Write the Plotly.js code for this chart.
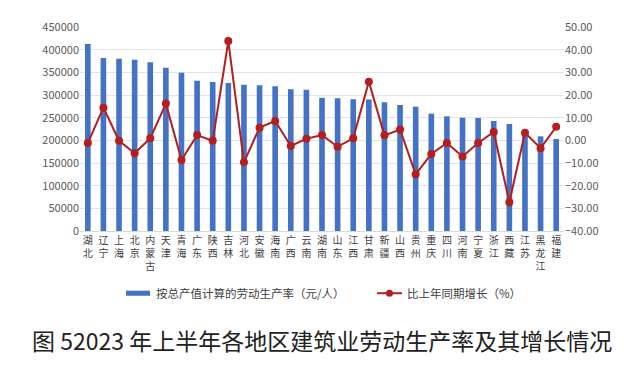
<!DOCTYPE html>
<html>
<head>
<meta charset="utf-8">
<script src="https://cdn.plot.ly/plotly-3.0.1.min.js"></script>
<style>html,body{margin:0;padding:0;background:#fff;}#chart{width:641px;height:366px;}</style>
</head>
<body>
<div id="chart"></div>
<script>
const regions = ["湖北","辽宁","上海","北京","内蒙古","天津","青海","广东","陕西","吉林","河北","安徽","海南","广西","云南","湖南","山东","江西","甘肃","新疆","山西","贵州","重庆","四川","河南","宁夏","浙江","西藏","江苏","黑龙江","福建"];
const productivity = [412500,381600,380000,377900,372100,360200,349200,331600,328700,326500,322800,321300,319200,312600,311800,294100,292700,290500,289800,283900,277900,274200,258800,253000,250000,249300,242600,236000,222000,208900,203000];
const growth = [-1.2,14.4,-0.2,-5.7,0.9,16.2,-8.7,2.3,-0.2,43.8,-9.7,5.6,8.5,-2.5,0.7,2.3,-2.8,0.9,25.9,2.2,4.8,-15.0,-6.0,-1.2,-7.1,-1.2,3.7,-27.3,3.4,-3.5,6.0];
const barName = "按总产值计算的劳动生产率（元/人）";
const lineName = "比上年同期增长（%）";
const titleText = "图 52023 年上半年各地区建筑业劳动生产率及其增长情况";

const tickText = regions.map(r => r.split("").join("<br>"));
const font = "Noto Sans CJK SC, Noto Sans, sans-serif";
const barColor = "#4472C4";
const lineColor = "#B41E1E";

const traces = [
  {type:"bar", x:regions, y:productivity, name:barName, marker:{color:barColor}, yaxis:"y"},
  {type:"scatter", mode:"lines+markers", x:regions, y:growth, name:lineName, yaxis:"y2",
   line:{color:lineColor, width:2}, marker:{color:lineColor, size:8}}
];

// legend drawn as paper-space decoration (wide swatch like the reference)
const legY = -0.305;
const layout = {
  width:641, height:366,
  margin:{l:80, r:77, t:27, b:135},
  paper_bgcolor:"#fff", plot_bgcolor:"#fff",
  font:{family:font, size:11, color:"#595959"},
  bargap:0.64,
  showlegend:false,
  xaxis:{type:"category", range:[-0.5, regions.length-0.5], tickmode:"array", tickvals:regions, ticktext:tickText,
         tickfont:{size:10, color:"#404040"}, showgrid:false, zeroline:false,
         showline:true, linecolor:"#D9D9D9", ticks:"", ticklen:4, automargin:false},
  yaxis:{range:[0,450000], dtick:50000, tickformat:"d", showgrid:true, gridcolor:"#E3E3E3",
         zeroline:false, ticks:"", tickfont:{size:11, color:"#595959"}, automargin:false},
  yaxis2:{range:[-40,50], dtick:10, tickformat:".2f", overlaying:"y", side:"right",
          showgrid:false, zeroline:false, ticks:"", tickfont:{size:11, color:"#595959"}, automargin:false},
  shapes:[
    {type:"rect", xref:"paper", yref:"paper", x0:0.095, x1:0.1446, y0:legY-0.0125, y1:legY+0.0125,
     fillcolor:barColor, line:{width:0}},
    {type:"line", xref:"paper", yref:"paper", x0:0.6136, x1:0.6653, y0:legY, y1:legY,
     line:{color:lineColor, width:2}},
    {type:"circle", xref:"paper", yref:"paper", x0:0.6394-0.0074, x1:0.6394+0.0074, y0:legY-0.0176, y1:legY+0.0176,
     fillcolor:lineColor, line:{width:0}}
  ],
  annotations:[
    {text:barName, xref:"paper", yref:"paper", x:0.153, y:legY, xanchor:"left", yanchor:"middle",
     showarrow:false, font:{family:font, size:11.5, color:"#404040"}},
    {text:lineName, xref:"paper", yref:"paper", x:0.6705, y:legY, xanchor:"left", yanchor:"middle",
     showarrow:false, font:{family:font, size:11.5, color:"#404040"}},
    {text:titleText, xref:"paper", yref:"paper", x:0.5, y:-0.535, xanchor:"center", yanchor:"middle",
     showarrow:false, font:{family:font, size:23, color:"#222"}}
  ]
};

Plotly.newPlot("chart", traces, layout, {displayModeBar:false, staticPlot:true});
</script>
</body>
</html>
